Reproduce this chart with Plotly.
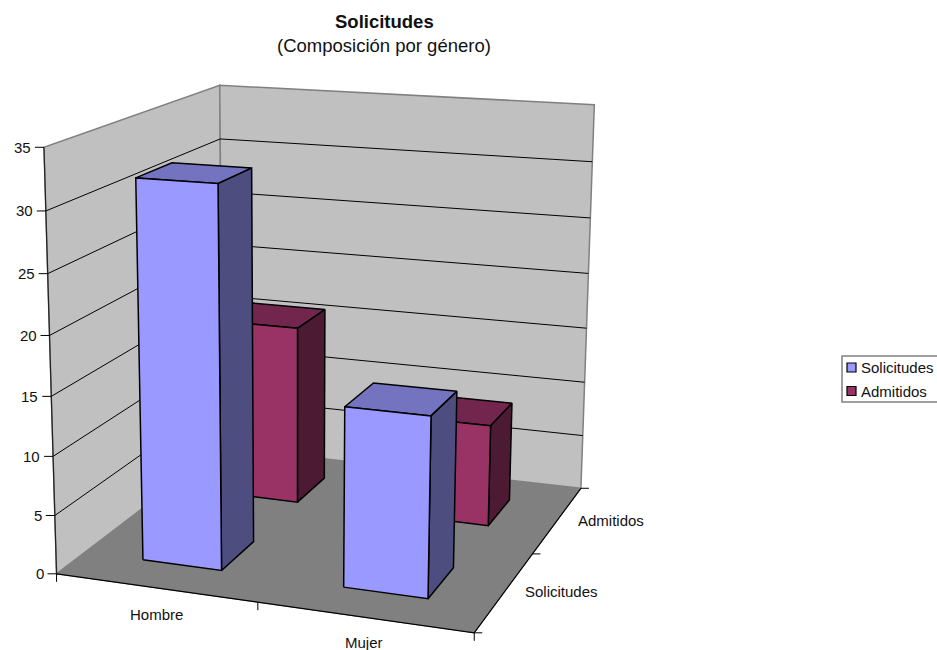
import numpy as np
import plotly.graph_objects as go

# ---- data ----
CATEGORIES = ["Hombre", "Mujer"]
SERIES_NAMES = ["Solicitudes", "Admitidos"]
SOLICITUDES = [32, 15]
ADMITIDOS = [16, 9]
Z_TICKS = [0, 5, 10, 15, 20, 25, 30, 35]

# ---- style ----
FONT = "Liberation Sans, Arial, sans-serif"
FRONT = {"Solicitudes": "#9999FF", "Admitidos": "#993366"}
TOP = {"Solicitudes": "#7373BF", "Admitidos": "#73264D"}
SIDE = {"Solicitudes": "#4D4D80", "Admitidos": "#4D1A33"}
WALL = "#C0C0C0"
FLOOR = "#808080"
BAR_X = (0.30, 0.70)
BAR_Y = (0.30, 0.70)
ZMAX = 35

# ---- camera of the oblique view: world (category, series, value) -> screen ----
CALIB = [
    ((0, 0, 0), (58.3, 574)), ((2, 0, 0), (473, 632.7)), ((2, 2, 0), (581.7, 487.7)),
    ((0, 2, 0), (221, 447)), ((0, 0, 35), (42.7, 146.7)), ((0, 2, 35), (221, 85.7)),
    ((2, 2, 35), (594, 105)), ((1, 0, 0), (258, 603)), ((2, 1, 0), (533, 554)),
    ((0, 0, 15), (51.5, 396)),
]


def fit_camera(pairs):
    rows = []
    for (a, b, c), (u, v) in pairs:
        w = [a, b, c / 17.5, 1]
        rows.append(w + [0, 0, 0, 0] + [-u * t for t in w])
        rows.append([0, 0, 0, 0] + w + [-v * t for t in w])
    _, _, vt = np.linalg.svd(np.array(rows, float))
    return vt[-1].reshape(3, 4)


CAM = fit_camera(CALIB)


def proj(a, b, c):
    p = CAM @ np.array([a, b, c / 17.5, 1.0])
    return p[0] / p[2], p[1] / p[2]


fig = go.Figure()


def face(points, fill, line="#000000", width=1.5):
    pts = [proj(*p) for p in points] + [proj(*points[0])]
    fig.add_trace(go.Scatter(x=[p[0] for p in pts], y=[p[1] for p in pts], mode="lines",
                             fill="toself", fillcolor=fill, line=dict(color=line, width=width),
                             hoverinfo="skip", showlegend=False))


def polyline(points, color="#000000", width=1.0):
    pts = [proj(*p) for p in points]
    fig.add_trace(go.Scatter(x=[p[0] for p in pts], y=[p[1] for p in pts],
                             mode="lines", line=dict(color=color, width=width),
                             hoverinfo="skip", showlegend=False))


def segment_px(p, dx, dy, color="#000000", width=1.0):
    x, y = proj(*p)
    fig.add_trace(go.Scatter(x=[x, x + dx], y=[y, y + dy], mode="lines",
                             line=dict(color=color, width=width), hoverinfo="skip", showlegend=False))


def label(xy, text, dx=0, dy=0, size=15, anchor="center"):
    fig.add_annotation(x=xy[0] + dx, y=xy[1] + dy, text=text, showarrow=False, xanchor=anchor,
                       yanchor="middle", xref="x", yref="y",
                       font=dict(family=FONT, size=size, color="#111111"))


# floor and walls
face([(0, 0, 0), (2, 0, 0), (2, 2, 0), (0, 2, 0)], FLOOR, FLOOR, 1)
face([(0, 0, 0), (0, 2, 0), (0, 2, ZMAX), (0, 0, ZMAX)], WALL, FLOOR, 1.5)
face([(0, 2, 0), (2, 2, 0), (2, 2, ZMAX), (0, 2, ZMAX)], WALL, FLOOR, 1.5)

# gridlines
for z in Z_TICKS[1:-1]:
    polyline([(0, 0, z), (0, 2, z), (2, 2, z)])
polyline([(0, 0, 0), (0, 0, ZMAX)], "#222222", 1.2)
polyline([(0, 0, 0), (2, 0, 0), (2, 2, 0)], "#000000", 1.2)

# ticks
for z in Z_TICKS:
    segment_px((0, 0, z), -9, 0)
    x, y = proj(0, 0, z)
    label((x, y), str(z), dx=-11, anchor="right")
for a in range(3):
    segment_px((a, 0, 0), 0, 8)
for b in range(3):
    segment_px((2, b, 0), 8, 0)

# bars, back row first
values = {"Solicitudes": SOLICITUDES, "Admitidos": ADMITIDOS}
for s in [1, 0]:
    name = SERIES_NAMES[s]
    for c in range(len(CATEGORIES)):
        v = values[name][c]
        x0, x1 = c + BAR_X[0], c + BAR_X[1]
        y0, y1 = s + BAR_Y[0], s + BAR_Y[1]
        face([(x0, y0, v), (x1, y0, v), (x1, y1, v), (x0, y1, v)], TOP[name])
        face([(x1, y0, 0), (x1, y1, 0), (x1, y1, v), (x1, y0, v)], SIDE[name])
        face([(x0, y0, 0), (x1, y0, 0), (x1, y0, v), (x0, y0, v)], FRONT[name])

# axis category labels
label(proj(0.5, 0, 0), CATEGORIES[0], dx=1, dy=27)
label(proj(1.5, 0, 0), CATEGORIES[1], dx=0, dy=25.5)
label(proj(2, 0.5, 0), SERIES_NAMES[0], dx=57, dy=0)
label(proj(2, 1.5, 0), SERIES_NAMES[1], dx=53, dy=1)

# title
label((384, 21), "<b>Solicitudes</b>", size=18.5)
label((384, 45), "(Composición por género)", size=18.5)

# legend
fig.add_shape(type="rect", x0=842, x1=940, y0=356, y1=402, xref="x", yref="y",
              line=dict(color="#808080", width=1.5), fillcolor="#FFFFFF", layer="below")
for name, y in zip(SERIES_NAMES, [367.5, 391]):
    fig.add_trace(go.Scatter(x=[851.5], y=[y], mode="markers", hoverinfo="skip", showlegend=False,
                             marker=dict(symbol="square", size=9, color=FRONT[name],
                                         line=dict(color="#000000", width=1.2))))
    fig.add_annotation(x=858.5, y=y, text=name, showarrow=False, xanchor="left", yanchor="middle",
                       xref="x", yref="y", font=dict(family=FONT, size=15, color="#111111"))

fig.update_layout(width=937, height=650, margin=dict(l=0, r=0, t=0, b=0), showlegend=False,
                  paper_bgcolor="white", plot_bgcolor="white",
                  xaxis=dict(range=[0, 937], visible=False, fixedrange=True),
                  yaxis=dict(range=[650, 0], visible=False, fixedrange=True))
fig.write_html("out.html", config={"displayModeBar": False}, default_height=650, default_width=937,
               post_script="document.body.style.margin='0';document.documentElement.style.overflow='hidden';")
